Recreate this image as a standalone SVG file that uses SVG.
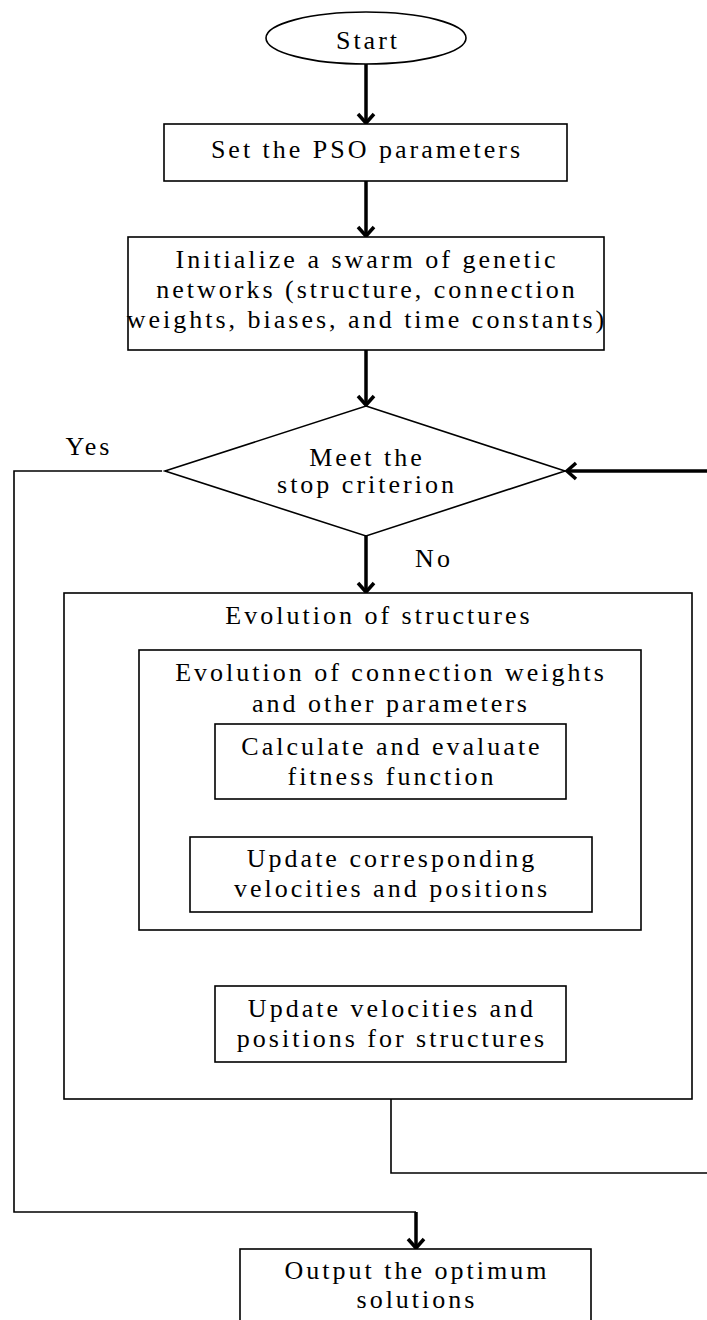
<svg xmlns="http://www.w3.org/2000/svg" width="707" height="1320" viewBox="0 0 707 1320">
<style>
.box{fill:#fff;stroke:#000;stroke-width:1.6}
.t{font-family:"Liberation Serif","Times New Roman",serif;font-size:26px;letter-spacing:3px;fill:#000;text-anchor:middle}
.thin{fill:none;stroke:#000;stroke-width:1.6}
.thick{fill:none;stroke:#000;stroke-width:3.5}
.head{fill:none;stroke:#000;stroke-width:3.5;stroke-linejoin:miter}
</style>
<rect width="707" height="1320" fill="#fff"/>
<g id="connectors">
  <path class="thick" d="M366,64 V122"/><path class="head" d="M358,114 L366,123 L374,114"/>
  <path class="thick" d="M366,181 V235"/><path class="head" d="M358,227 L366,236 L374,227"/>
  <path class="thick" d="M366,350 V404"/><path class="head" d="M358,396 L366,405 L374,396"/>
  <path class="thick" d="M366,536 V591"/><path class="head" d="M358,583 L366,592 L374,583"/>
  <path class="thick" d="M392,799 V835"/><path class="head" d="M384,827 L392,836 L400,827"/>
  <path class="thick" d="M391,930 V984"/><path class="head" d="M383,976 L391,985 L399,976"/>
  <path class="thin" d="M162,471 H14 V1212 H416"/>
  <path class="thick" d="M416,1212 V1247"/><path class="head" d="M408,1239 L416,1248 L424,1239"/>
  <path class="thin" d="M391,1099 V1173 H707"/>
  <path class="thick" d="M707,471 H568"/><path class="head" d="M576,463 L567,471 L576,479"/>
  <text class="t" x="89" y="455">Yes</text>
  <text class="t" x="434" y="567">No</text>
</g>
<g id="start">
  <ellipse class="box" cx="366" cy="38" rx="100" ry="26"/>
  <text class="t" x="368" y="49">Start</text>
</g>
<g id="pso">
  <rect class="box" x="164" y="124" width="403" height="57"/>
  <text class="t" x="367" y="158">Set the PSO parameters</text>
</g>
<g id="init">
  <rect class="box" x="128" y="237" width="476" height="113"/>
  <text class="t" x="367" y="268">Initialize a swarm of genetic</text>
  <text class="t" x="367" y="298">networks (structure, connection</text>
  <text class="t" x="367" y="328">weights, biases, and time constants)</text>
</g>
<g id="decision">
  <polygon class="box" points="366,406 565,471 366,536 165,471"/>
  <text class="t" x="367" y="466">Meet the</text>
  <text class="t" x="367" y="493">stop criterion</text>
</g>
<g id="evo-structures">
  <rect class="box" x="64" y="593" width="628" height="506"/>
  <text class="t" x="379" y="624">Evolution of structures</text>
</g>
<g id="evo-weights">
  <rect class="box" x="139" y="650" width="502" height="280"/>
  <text class="t" x="391" y="681">Evolution of connection weights</text>
  <text class="t" x="391" y="712">and other parameters</text>
</g>
<g id="calc">
  <rect class="box" x="215" y="724" width="351" height="75"/>
  <text class="t" x="392" y="755">Calculate and evaluate</text>
  <text class="t" x="392" y="785">fitness function</text>
</g>
<g id="update-corr">
  <rect class="box" x="190" y="837" width="402" height="75"/>
  <text class="t" x="392" y="867">Update corresponding</text>
  <text class="t" x="392" y="897">velocities and positions</text>
</g>
<g id="update-struct">
  <rect class="box" x="215" y="986" width="351" height="76"/>
  <text class="t" x="392" y="1017">Update velocities and</text>
  <text class="t" x="392" y="1047">positions for structures</text>
</g>
<g id="output">
  <rect class="box" x="240" y="1249" width="351" height="80"/>
  <text class="t" x="417" y="1279">Output the optimum</text>
  <text class="t" x="417" y="1308">solutions</text>
</g>
</svg>
